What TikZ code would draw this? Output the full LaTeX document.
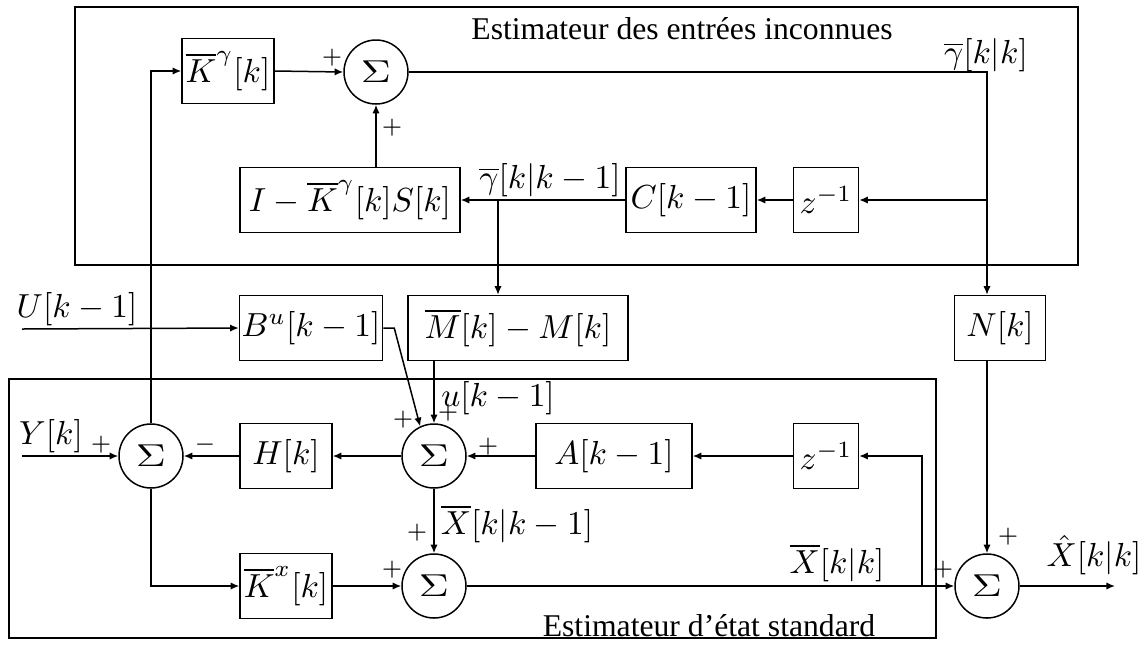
\documentclass[tikz,border=0pt]{standalone}
\usepackage[no-math]{fontspec}
\setmainfont{Liberation Serif}
\usepackage{graphicx}
\usetikzlibrary{arrows.meta}
\newcommand{\sumsym}{\scalebox{1.25}[0.95]{$\Sigma$}}
\tikzset{
  every picture/.style={line width=0.45pt},
  arr/.style={-{Latex[length=2.6pt,width=2.2pt]}},
  blk/.style={draw, rectangle, inner sep=0pt, minimum height=19.5pt},
  sumc/.style={draw, circle, inner sep=0pt, minimum size=19.2pt},
  sgn/.style={inner sep=0pt, font=\scriptsize},
  lbl/.style={inner sep=0pt},
  ttl/.style={inner sep=0pt, font=\fontsize{9.5}{11}\selectfont}
}
\begin{document}
\begin{tikzpicture}[x=0.3pt,y=-0.3pt]
\useasboundingbox (0,0) rectangle (1146,646);
% frames
\draw (75,7) rectangle (1078,265);
\draw (9,379) rectangle (936,638);
\node[ttl] (t1) at (682,29) {Estimateur des entrées inconnues};
\node[ttl] (t2) at (709,626) {Estimateur d’état standard};
% top part
\node[blk, minimum width=27.6pt] (Kg) at (228,71) {$\overline{K}^{\gamma}[k]$};
\node[sumc] (St) at (376,72) {\sumsym};
\node[blk, minimum width=66pt] (IKS) at (350,200) {$I-\overline{K}^{\gamma}[k]S[k]$};
\node[blk, minimum width=39pt] (C) at (691,200) {$C[k-1]$};
\node[blk, minimum width=19.5pt] (zt) at (826,200) {$z^{-1}$};
% middle
\node[blk, minimum width=42.9pt] (Bu) at (311,328) {$B^{u}[k-1]$};
\node[blk, minimum width=66pt] (M) at (518,328) {$\overline{M}[k]-M[k]$};
\node[blk, minimum width=27.3pt] (N) at (1000,328) {$N[k]$};
% bottom part
\node[sumc] (SY) at (151,456) {\sumsym};
\node[blk, minimum width=27.6pt] (H) at (286,456) {$H[k]$};
\node[sumc] (Sm) at (434,456) {\sumsym};
\node[blk, minimum width=46.8pt] (A) at (614,456) {$A[k-1]$};
\node[blk, minimum width=19.5pt] (zb) at (826,456) {$z^{-1}$};
\node[blk, minimum width=27.6pt] (Kx) at (286,586) {$\overline{K}^{x}[k]$};
\node[sumc] (Sl) at (434,586) {\sumsym};
\node[sumc] (Sf) at (987,586) {\sumsym};
% coordinates
\coordinate (c1) at (987,72);
\coordinate (c2) at (498,200);
\coordinate (c3) at (922,586);
\coordinate (uin) at (22,329);
\coordinate (yin) at (22,456);
\coordinate (xout) at (1115,586);
% connectors top
\draw[arr] (Kg.east) -- (St.west);
\draw[arr] (St.east) -- (c1) -- (c1 |- N.north);
\draw[arr] (c1 |- zt) -- (zt.east);
\draw[arr] (zt.west) -- (C.east);
\draw[arr] (C.west) -- (IKS.east);
\draw[arr] (c2) -- (c2 |- M.north);
\draw[arr] (IKS.north -| St) -- (St.south);
\draw[arr] (SY.north) -- (SY.north |- Kg) -- (Kg.west);
% connectors middle
\draw[arr] (uin) -- (Bu.west);
\draw[arr] (Bu.east) -- ++(11,0) -- (Sm.115);
\draw[arr] (M.south -| Sm) -- (Sm.north);
% connectors bottom
\draw[arr] (zb.west) -- (A.east);
\draw[arr] (A.west) -- (Sm.east);
\draw[arr] (Sm.west) -- (H.east);
\draw[arr] (H.west) -- (SY.east);
\draw[arr] (yin) -- (SY.west);
\draw[arr] (SY.south) -- (SY |- Kx) -- (Kx.west);
\draw[arr] (Kx.east) -- (Sl.west);
\draw[arr] (Sm.south) -- (Sl.north);
\draw[arr] (Sl.east) -- (Sf.west);
\draw[arr] (c3) -- (c3 |- zb) -- (zb.east);
\draw[arr] (N.south -| Sf) -- (Sf.north);
\draw[arr] (Sf.east) -- (xout);
% labels
\node[lbl] (lg1) at (986,55) {$\overline{\gamma}[k|k]$};
\node[lbl] (lg2) at (550,180) {$\overline{\gamma}[k|k-1]$};
\node[lbl] (lU) at (77,309) {$U[k-1]$};
\node[lbl] (lY) at (51,436) {$Y[k]$};
\node[lbl] (lu) at (498,398) {$u[k-1]$};
\node[lbl] (lX1) at (517,524) {$\overline{X}[k|k-1]$};
\node[lbl] (lX2) at (837,563) {$\overline{X}[k|k]$};
\node[lbl] (lX3) at (1094,555) {$\hat{X}[k|k]$};
% signs
\node[sgn] at (332,58) {$+$};
\node[sgn] at (392,128) {$+$};
\node[sgn] at (101,445) {$+$};
\node[sgn] at (205,445) {$-$};
\node[sgn] at (403,420) {$+$};
\node[sgn] at (448,413) {$+$};
\node[sgn] at (488,447) {$+$};
\node[sgn] at (417,533) {$+$};
\node[sgn] at (392,570) {$+$};
\node[sgn] at (943,570) {$+$};
\node[sgn] at (1008,537) {$+$};
\end{tikzpicture}
\end{document}
